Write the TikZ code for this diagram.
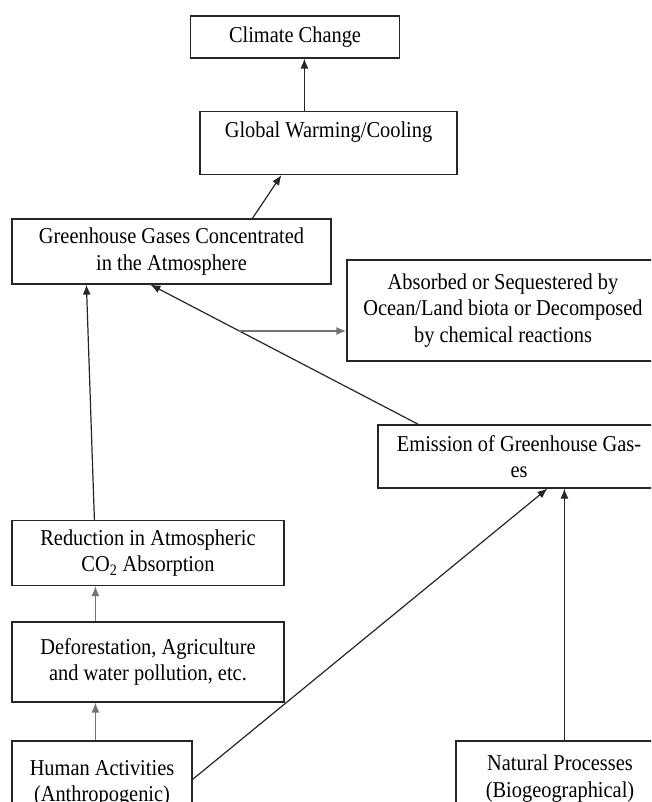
\documentclass[tikz,border=0pt]{standalone}
\usepackage{fontspec}
\setmainfont{Liberation Serif}[FakeStretch=0.9]
\usetikzlibrary{arrows.meta,calc}
\begin{document}
\begin{tikzpicture}[x=0.75pt,y=-0.75pt,
  box/.style={draw=black!85,line width=0.9pt,inner sep=0pt,align=center,
    font=\fontsize{17}{20}\selectfont},
  wh/.style 2 args={minimum width=#1*0.75pt,minimum height=#2*0.75pt},
  arr/.style={draw=black!85,line width=0.9pt,-{Latex[length=7.5pt,width=6pt]}},
  garr/.style={draw=black!55,line width=1pt,-{Latex[length=7.5pt,width=6pt]}}]
\useasboundingbox (0,0) rectangle (651,802);
\clip (0,0) rectangle (651,802);
\fill[white] (0,0) rectangle (651,802);

\node[box,wh={209}{42}] (cc) at (295,37) {Climate Change};
\node[box,wh={257}{63}] (gw) at (328.5,143) {Global Warming/Cooling\\\mbox{}};
\node[box,wh={319}{65}] (ghg) at (171.5,251.5) {Greenhouse Gases Concentrated\\in the Atmosphere};
\node[box,wh={312}{101}] (abs) at (503,310.5) {Absorbed or Sequestered by\\Ocean/Land biota or Decomposed\\by chemical reactions};
\node[box,wh={282}{63}] (emi) at (519,456.5) {Emission of Greenhouse Gas-\\es};
\node[box,wh={272}{65}] (red) at (148,553) {Reduction in Atmospheric\\CO\textsubscript{2} Absorption};
\node[box,wh={272}{80}] (def) at (148,662) {Deforestation, Agriculture\\and water pollution, etc.};
\node[box,wh={180}{85}] (hum) at (102,783.5) {Human Activities\\(Anthropogenic)};
\node[box,wh={208}{75}] (nat) at (560,778.5) {Natural Processes\\(Biogeographical)};

\draw[arr] ($(gw.north west)+(105,0)$) coordinate (p1) -- (p1 |- cc.south);
\draw[arr] ($(ghg.north west)+(241,0)$) -- ($(gw.south west)+(82,0)$);
\draw[arr] ($(emi.north west)+(41,0)$) coordinate (e1) -- ($(ghg.south west)+(139,0)$) coordinate (g1);
\coordinate (br) at ($(e1)!0.668!(g1)$);
\draw[garr,line width=1.4pt] (br) -- (br -| abs.west);
\draw[arr] ($(red.north west)+(83,0)$) -- ($(ghg.south west)+(75,0)$);
\draw[garr] ($(def.north west)+(84,0)$) coordinate (q1) -- (q1 |- red.south);
\draw[garr] ($(hum.north west)+(84,0)$) coordinate (r1) -- (r1 |- def.south);
\draw[arr] ($(hum.north east)+(0,39)$) -- ($(emi.south west)+(170,0)$);
\draw[arr] ($(nat.north west)+(109,0)$) coordinate (s1) -- (s1 |- emi.south);
\end{tikzpicture}
\end{document}
